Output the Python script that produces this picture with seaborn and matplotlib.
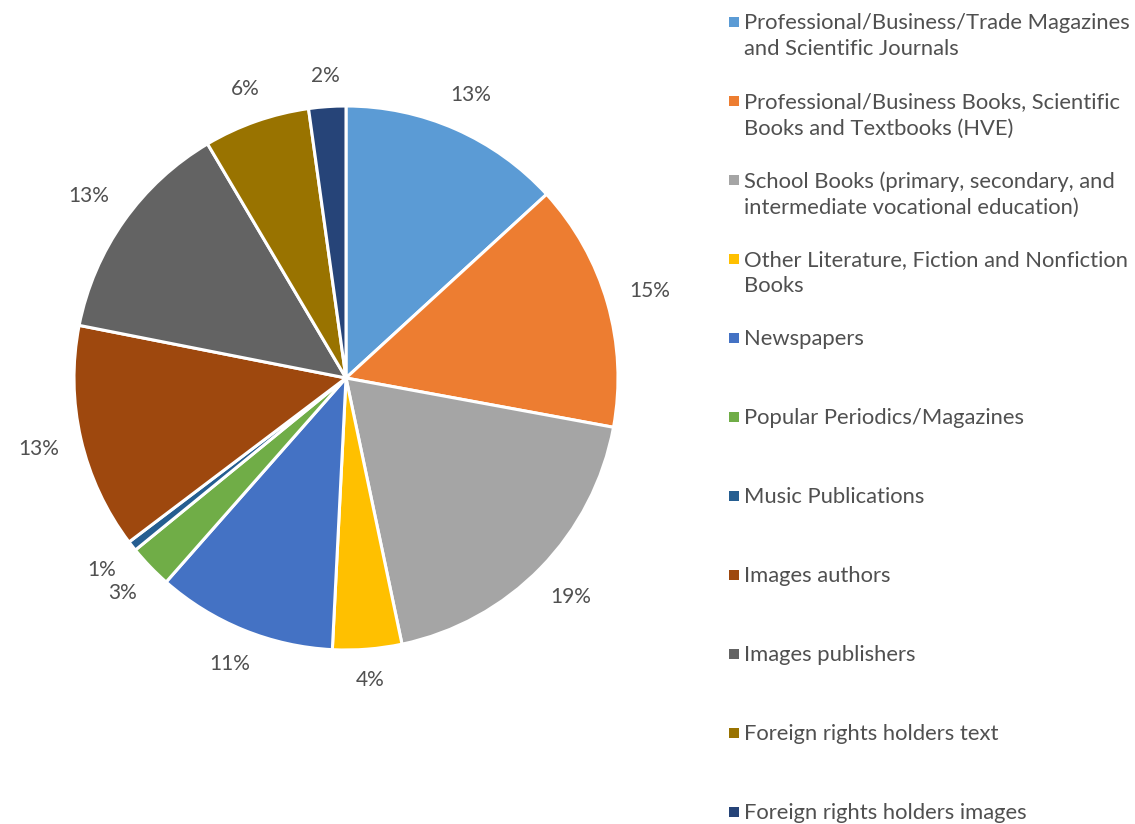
import numpy as np
import matplotlib.pyplot as plt
import seaborn as sns

sns.set_theme(style="white")
plt.rcParams["font.family"] = ["Lato", "DejaVu Sans"]

# Data (shares in %)
categories = [
    "Professional/Business/Trade Magazines\nand Scientific Journals",
    "Professional/Business Books, Scientific\nBooks and Textbooks (HVE)",
    "School Books (primary, secondary, and\nintermediate vocational education)",
    "Other Literature, Fiction and Nonfiction\nBooks",
    "Newspapers",
    "Popular Periodics/Magazines",
    "Music Publications",
    "Images authors",
    "Images publishers",
    "Foreign rights holders text",
    "Foreign rights holders images",
]
shares = [13.2, 14.7, 18.8, 4.1, 10.7, 2.6, 0.6, 13.4, 13.4, 6.3, 2.2]
colors = ["#5B9BD5", "#ED7D31", "#A5A5A5", "#FFC000", "#4472C4", "#70AD47",
          "#255E91", "#9E480E", "#636363", "#997300", "#264478"]

text_color = "#505050"
palette = sns.color_palette(colors)

fig = plt.figure(figsize=(11.35, 8.24), dpi=100)
radius_px = 272
ax = fig.add_axes([74 / 1135, 174 / 824, 544 / 1135, 544 / 824])

wedges, texts, autotexts = ax.pie(
    shares, colors=palette, startangle=90, counterclock=False,
    autopct="%1.0f%%", pctdistance=1.16,
    wedgeprops=dict(edgecolor="white", linewidth=2.2),
    textprops=dict(color=text_color, fontsize=15),
)
ax.set_xlim(-1, 1)
ax.set_ylim(-1, 1)
ax.set_aspect("equal")
ax.axis("off")

# move the percent labels like Excel does: a fixed gap from the rim to the label box
fig.canvas.draw()
renderer = fig.canvas.get_renderer()
for w, t in zip(wedges, autotexts):
    mid = np.deg2rad((w.theta1 + w.theta2) / 2)
    bb = t.get_window_extent(renderer)
    hw, hh = bb.width / 2, bb.height / 2 * 0.8
    d = (294 + hw * abs(np.cos(mid)) + hh * abs(np.sin(mid))) / radius_px
    t.set_position((d * np.cos(mid), d * np.sin(mid)))

# legend on the right, marker aligned with the first text line
y0 = 1 - 22 / 824
step = 79 / 824
for i, (lab, col) in enumerate(zip(categories, palette)):
    y = y0 - i * step
    fig.patches.append(plt.Rectangle((729 / 1135, y - 5 / 824), 10 / 1135, 10 / 824,
                                     transform=fig.transFigure, facecolor=col,
                                     edgecolor="none"))
    fig.text(744 / 1135, y + 9 / 824, lab, ha="left", va="top", fontsize=15.8,
             color=text_color, linespacing=1.4)

fig.savefig("out.png", dpi=100)
